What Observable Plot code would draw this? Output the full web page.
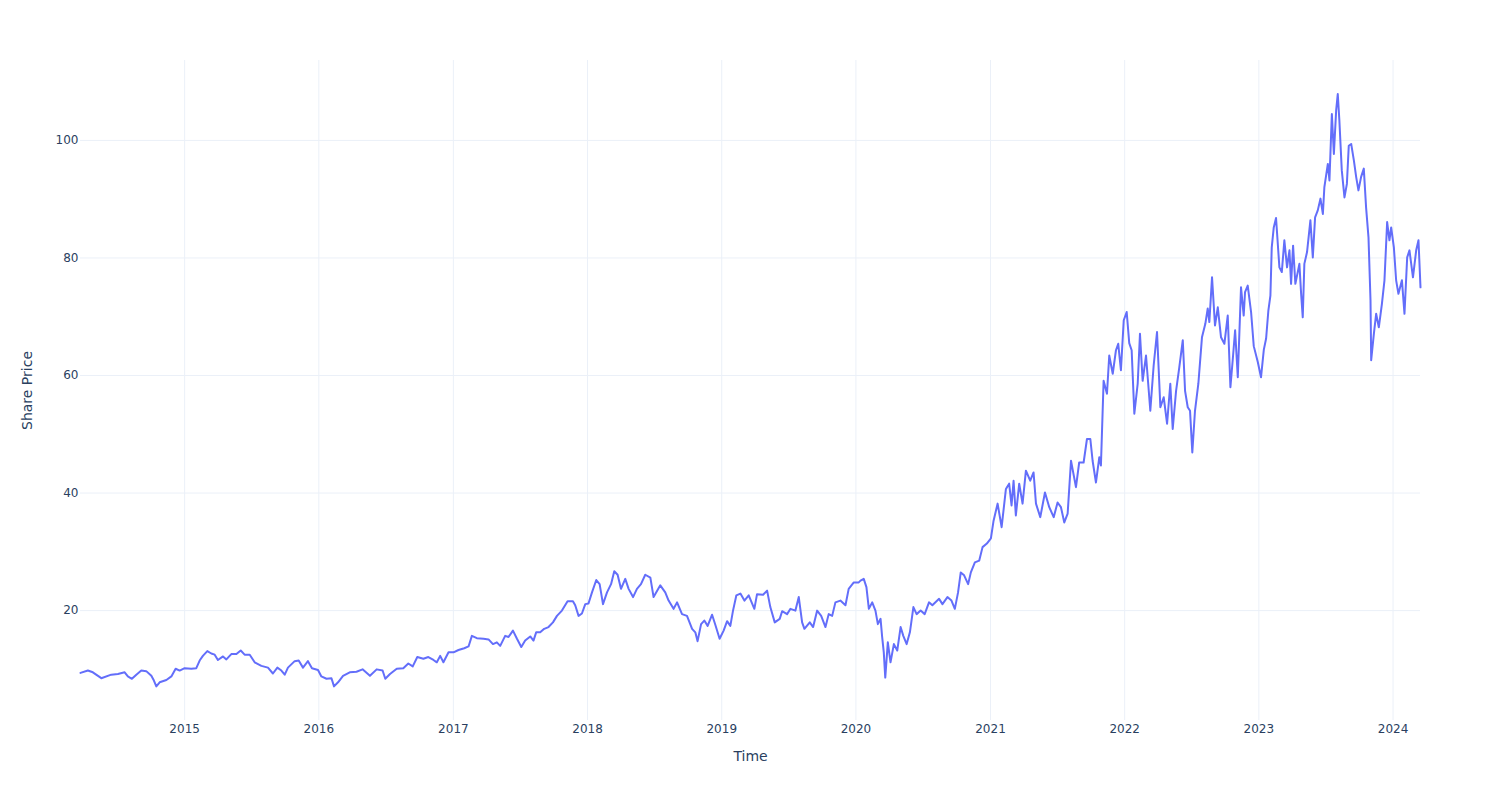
<!DOCTYPE html>
<html>
<head>
<meta charset="utf-8">
<script src="https://cdn.jsdelivr.net/npm/d3@7"></script>
<script src="https://cdn.jsdelivr.net/npm/@observablehq/plot@0.6"></script>
<style>
  html, body { margin: 0; padding: 0; background: #fff; }
  #chart { width: 1500px; height: 800px; }
</style>
</head>
<body>
<div id="chart"></div>
<script>
// Time as decimal years
const years = [
  2014.224, 2014.279, 2014.316, 2014.379, 2014.453, 2014.503, 2014.553, 2014.577, 2014.607, 2014.640,
  2014.677, 2014.714, 2014.752, 2014.771, 2014.789, 2014.814, 2014.864, 2014.901, 2014.933, 2014.963,
  2015.000, 2015.050, 2015.087, 2015.112, 2015.136, 2015.169, 2015.199, 2015.224, 2015.248, 2015.286,
  2015.311, 2015.348, 2015.386, 2015.418, 2015.447, 2015.485, 2015.522, 2015.572, 2015.621, 2015.658,
  2015.691, 2015.721, 2015.746, 2015.770, 2015.820, 2015.850, 2015.882, 2015.919, 2015.949, 2015.994,
  2016.019, 2016.057, 2016.094, 2016.113, 2016.143, 2016.180, 2016.230, 2016.280, 2016.325, 2016.380,
  2016.430, 2016.474, 2016.494, 2016.529, 2016.579, 2016.628, 2016.665, 2016.698, 2016.732, 2016.777,
  2016.814, 2016.852, 2016.877, 2016.902, 2016.926, 2016.964, 2017.001, 2017.038, 2017.081, 2017.113,
  2017.138, 2017.175, 2017.225, 2017.262, 2017.295, 2017.324, 2017.349, 2017.386, 2017.411, 2017.444,
  2017.474, 2017.506, 2017.535, 2017.573, 2017.597, 2017.617, 2017.647, 2017.677, 2017.709, 2017.742,
  2017.772, 2017.809, 2017.851, 2017.891, 2017.908, 2017.933, 2017.958, 2017.983, 2018.007, 2018.033,
  2018.065, 2018.090, 2018.115, 2018.145, 2018.175, 2018.199, 2018.224, 2018.249, 2018.281, 2018.306,
  2018.339, 2018.368, 2018.398, 2018.430, 2018.468, 2018.492, 2018.542, 2018.579, 2018.604, 2018.641,
  2018.667, 2018.704, 2018.741, 2018.779, 2018.803, 2018.820, 2018.846, 2018.870, 2018.895, 2018.928,
  2018.952, 2018.984, 2019.014, 2019.040, 2019.064, 2019.084, 2019.109, 2019.139, 2019.169, 2019.201,
  2019.243, 2019.263, 2019.308, 2019.338, 2019.362, 2019.395, 2019.432, 2019.450, 2019.487, 2019.512,
  2019.549, 2019.574, 2019.599, 2019.616, 2019.656, 2019.681, 2019.711, 2019.741, 2019.773, 2019.797,
  2019.823, 2019.847, 2019.884, 2019.922, 2019.946, 2019.984, 2020.021, 2020.034, 2020.058, 2020.078,
  2020.096, 2020.121, 2020.145, 2020.163, 2020.183, 2020.195, 2020.207, 2020.218, 2020.237, 2020.257,
  2020.282, 2020.307, 2020.332, 2020.352, 2020.377, 2020.401, 2020.427, 2020.451, 2020.481, 2020.511,
  2020.543, 2020.568, 2020.618, 2020.643, 2020.680, 2020.710, 2020.735, 2020.759, 2020.779, 2020.804,
  2020.834, 2020.854, 2020.884, 2020.916, 2020.941, 2020.973, 2021.003, 2021.023, 2021.053, 2021.083,
  2021.115, 2021.139, 2021.157, 2021.172, 2021.189, 2021.214, 2021.239, 2021.264, 2021.296, 2021.321,
  2021.339, 2021.371, 2021.406, 2021.438, 2021.471, 2021.500, 2021.525, 2021.550, 2021.575, 2021.600,
  2021.637, 2021.661, 2021.694, 2021.719, 2021.744, 2021.761, 2021.786, 2021.811, 2021.823, 2021.843,
  2021.868, 2021.885, 2021.911, 2021.935, 2021.952, 2021.972, 2021.993, 2022.015, 2022.034, 2022.052,
  2022.072, 2022.097, 2022.114, 2022.134, 2022.159, 2022.191, 2022.216, 2022.241, 2022.266, 2022.291,
  2022.316, 2022.340, 2022.358, 2022.383, 2022.407, 2022.433, 2022.450, 2022.470, 2022.487, 2022.504,
  2022.524, 2022.549, 2022.576, 2022.601, 2022.619, 2022.631, 2022.651, 2022.673, 2022.694, 2022.718,
  2022.743, 2022.768, 2022.788, 2022.805, 2022.823, 2022.843, 2022.867, 2022.887, 2022.897, 2022.917,
  2022.942, 2022.962, 2022.992, 2023.016, 2023.037, 2023.054, 2023.071, 2023.086, 2023.096, 2023.111,
  2023.128, 2023.153, 2023.171, 2023.190, 2023.210, 2023.228, 2023.240, 2023.255, 2023.272, 2023.302,
  2023.315, 2023.327, 2023.339, 2023.359, 2023.384, 2023.402, 2023.419, 2023.439, 2023.459, 2023.477,
  2023.488, 2023.514, 2023.526, 2023.544, 2023.559, 2023.576, 2023.588, 2023.600, 2023.618, 2023.638,
  2023.656, 2023.670, 2023.688, 2023.708, 2023.725, 2023.742, 2023.762, 2023.782, 2023.799, 2023.817,
  2023.832, 2023.837, 2023.857, 2023.874, 2023.894, 2023.917, 2023.936, 2023.956, 2023.973, 2023.986,
  2024.006, 2024.023, 2024.040, 2024.066, 2024.085, 2024.105, 2024.122, 2024.148, 2024.172, 2024.189,
  2024.204
];

const prices = [
  9.4, 9.8, 9.5, 8.5, 9.1, 9.2, 9.5, 8.8, 8.4, 9.1,
  9.8, 9.7, 8.9, 8.1, 7.1, 7.8, 8.2, 8.8, 10.1, 9.8,
  10.2, 10.1, 10.2, 11.5, 12.3, 13.1, 12.7, 12.5, 11.6, 12.2,
  11.7, 12.6, 12.6, 13.2, 12.5, 12.5, 11.2, 10.6, 10.3, 9.3,
  10.3, 9.8, 9.1, 10.3, 11.4, 11.5, 10.3, 11.4, 10.2, 9.9,
  8.8, 8.4, 8.5, 7.1, 7.8, 8.9, 9.5, 9.6, 10.0, 8.9,
  10.0, 9.8, 8.4, 9.2, 10.1, 10.2, 11.0, 10.5, 12.1, 11.8,
  12.1, 11.6, 11.2, 12.3, 11.2, 12.9, 12.9, 13.3, 13.6, 13.9,
  15.7, 15.3, 15.2, 15.1, 14.3, 14.6, 14.0, 15.7, 15.5, 16.6,
  15.2, 13.8, 14.9, 15.6, 14.9, 16.3, 16.3, 16.9, 17.2, 18.0,
  19.1, 20.0, 21.6, 21.6, 20.9, 19.1, 19.5, 21.1, 21.2, 23.1,
  25.2, 24.5, 21.1, 23.1, 24.5, 26.7, 26.1, 23.7, 25.4, 23.7,
  22.3, 23.7, 24.5, 26.1, 25.6, 22.3, 24.3, 23.1, 21.7, 20.3,
  21.4, 19.4, 19.1, 16.9, 16.3, 14.8, 17.7, 18.3, 17.4, 19.3,
  17.6, 15.2, 16.6, 18.2, 17.4, 20.0, 22.6, 22.9, 21.7, 22.6,
  20.3, 22.8, 22.7, 23.4, 20.6, 18.0, 18.6, 19.9, 19.4, 20.3,
  20.0, 22.3, 18.0, 16.9, 18.0, 17.2, 20.0, 19.1, 17.2, 19.4,
  19.1, 21.4, 21.7, 20.9, 23.7, 24.8, 24.8, 25.1, 25.4, 24.0,
  20.3, 21.4, 20.0, 17.7, 18.6, 15.5, 12.9, 8.6, 14.6, 11.2,
  14.3, 13.2, 17.2, 15.7, 14.3, 16.3, 20.6, 19.4, 20.0, 19.4,
  21.4, 20.9, 22.0, 21.1, 22.3, 21.7, 20.3, 23.1, 26.5, 26.0,
  24.5, 26.5, 28.2, 28.5, 30.8, 31.4, 32.3, 35.3, 38.2, 34.2,
  40.7, 41.6, 37.9, 42.1, 36.2, 41.6, 38.2, 43.8, 42.1, 43.5,
  38.2, 35.9, 40.1, 37.6, 35.9, 38.4, 37.6, 35.0, 36.5, 45.5,
  41.0, 45.2, 45.2, 49.2, 49.2, 45.5, 41.8, 46.1, 44.7, 59.1,
  56.9, 63.4, 60.3, 64.3, 65.4, 60.9, 69.4, 70.8, 65.5, 64.3,
  53.5, 58.6, 67.1, 59.1, 63.4, 54.0, 61.7, 67.4, 54.6, 56.3,
  51.8, 58.6, 50.9, 57.4, 61.4, 66.0, 57.4, 54.6, 54.0, 46.9,
  54.0, 58.6, 66.5, 68.8, 71.4, 69.1, 76.7, 68.5, 71.6, 66.5,
  65.4, 70.2, 58.0, 62.6, 67.7, 59.7, 75.0, 70.2, 74.2, 75.3,
  70.8, 65.0, 62.3, 59.7, 64.4, 66.3, 71.1, 73.6, 81.8, 85.2,
  86.8, 78.4, 77.6, 83.0, 78.4, 81.3, 75.6, 82.1, 75.6, 79.0,
  73.9, 69.9, 79.0, 81.0, 86.4, 80.1, 86.9, 88.1, 90.1, 87.5,
  92.0, 96.0, 93.2, 104.5, 97.7, 105.1, 107.9, 103.4, 94.9, 90.3,
  92.6, 99.1, 99.4, 96.6, 93.8, 91.5, 93.8, 95.2, 88.6, 83.5,
  72.8, 62.6, 67.1, 70.5, 68.2, 72.2, 76.2, 86.1, 83.0, 85.2,
  81.8, 76.2, 73.9, 76.2, 70.5, 80.1, 81.3, 76.7, 81.3, 83.0,
  75.0
];

const yearTicks = [2015, 2016, 2017, 2018, 2019, 2020, 2021, 2022, 2023, 2024];
const priceTicks = [20, 40, 60, 80, 100];
const xTitle = "Time";
const yTitle = "Share Price";

function decToDate(t) {
  const y = Math.floor(t);
  const a = Date.UTC(y, 0, 1), b = Date.UTC(y + 1, 0, 1);
  return new Date(a + (t - y) * (b - a));
}

const data = years.map((t, i) => ({date: decToDate(t), price: prices[i]}));
const tickDates = yearTicks.map(y => new Date(Date.UTC(y, 0, 1)));

const chart = Plot.plot({
  width: 1500,
  height: 800,
  marginLeft: 80,
  marginRight: 80,
  marginTop: 60,
  marginBottom: 80,
  style: {fontFamily: "'DejaVu Sans', Verdana, sans-serif", fontSize: "12px", color: "#2a3f5f", background: "#fff"},
  x: {type: "utc", domain: [data[0].date, data[data.length - 1].date]},
  y: {domain: [1.3, 113.6]},
  marks: [
    Plot.gridX(tickDates, {stroke: "#ebf0f8", strokeOpacity: 1, strokeWidth: 1}),
    Plot.gridY(priceTicks, {stroke: "#ebf0f8", strokeOpacity: 1, strokeWidth: 1}),
    Plot.axisX(tickDates, {tickSize: 0, tickPadding: 4, tickFormat: d3.utcFormat("%Y"), label: null}),
    Plot.axisY(priceTicks, {tickSize: 0, tickPadding: 2, label: null}),
    Plot.line(data, {x: "date", y: "price", stroke: "#636efa", strokeWidth: 2, strokeLinejoin: "round"}),
    Plot.text([xTitle], {frameAnchor: "bottom", dy: 36, lineAnchor: "middle", textAnchor: "middle", fontSize: 14, fill: "#2a3f5f"}),
    Plot.text([yTitle], {frameAnchor: "left", dx: -53, rotate: -90, textAnchor: "middle", lineAnchor: "middle", fontSize: 14, fill: "#2a3f5f"})
  ]
});

document.getElementById("chart").appendChild(chart);
</script>
</body>
</html>
